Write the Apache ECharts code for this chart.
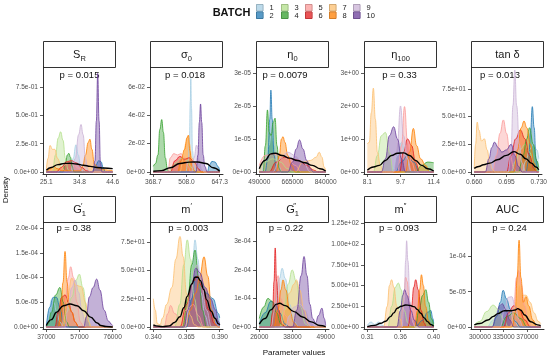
<!DOCTYPE html>
<html><head><meta charset="utf-8">
<script src="https://cdn.jsdelivr.net/npm/echarts@6/dist/echarts.min.js"></script>
<style>html,body{margin:0;padding:0;background:#fff}#c{width:550px;height:361px}</style>
</head><body><div id="c"></div>
<script>
const batchNames = ['1','2','3','4','5','6','7','8','9','10'];
const batchColors = ['#A6CEE3','#1F78B4','#B2DF8A','#33A02C','#FB9A99','#E31A1C','#FDBF6F','#FF7F00','#CAB2D6','#6A3D9A'];
const stripLabels = ['{m|S}{s|R}','{m|σ}{s|0}','{m|η}{s|0}','{m|η}{s|100}','{m|tan δ}','{m|G}{p|′}{s|1}','{m|m}{q|′}','{m|G}{p|″}{s|1}','{m|m}{q|″}','{m|AUC}'];
const pValues = ['p = 0.015','p = 0.018','p = 0.0079','p = 0.33','p = 0.013','p = 0.38','p = 0.003','p = 0.22','p = 0.093','p = 0.24'];

// ---- tick values / labels ----
const SR_xTicks=[25.1,34.85,44.6], SR_xLabels=['25.1','34.8','44.6'];
const SR_yTicks=[0,0.25,0.5,0.75], SR_yLabels=['0.0e+00','2.5e-01','5.0e-01','7.5e-01'];
const S0_xTicks=[368.7,508.0,647.3], S0_xLabels=['368.7','508.0','647.3'];
const S0_yTicks=[0,0.02,0.04,0.06], S0_yLabels=['0e+00','2e-02','4e-02','6e-02'];
const E0_xTicks=[490000,665000,840000], E0_xLabels=['490000','665000','840000'];
const E0_yTicks=[0,1e-5,2e-5,3e-5], E0_yLabels=['0e+00','1e-05','2e-05','3e-05'];
const E100_xTicks=[8.1,9.75,11.4], E100_xLabels=['8.1','9.7','11.4'];
const E100_yTicks=[0,1,2,3], E100_yLabels=['0e+00','1e+00','2e+00','3e+00'];
const TD_xTicks=[0.660,0.695,0.730], TD_xLabels=['0.660','0.695','0.730'];
const TD_yTicks=[0,25,50,75], TD_yLabels=['0.0e+00','2.5e+01','5.0e+01','7.5e+01'];
const G1_xTicks=[37000,56500,76000], G1_xLabels=['37000','57000','76000'];
const G1_yTicks=[0,5e-5,1e-4,1.5e-4,2e-4], G1_yLabels=['0.0e+00','5.0e-05','1.0e-04','1.5e-04','2.0e-04'];
const M1_xTicks=[0.340,0.365,0.390], M1_xLabels=['0.340','0.365','0.390'];
const M1_yTicks=[0,25,50,75], M1_yLabels=['0.0e+00','2.5e+01','5.0e+01','7.5e+01'];
const G2_xTicks=[26000,37500,49000], G2_xLabels=['26000','38000','49000'];
const G2_yTicks=[0,1e-4,2e-4,3e-4], G2_yLabels=['0e+00','1e-04','2e-04','3e-04'];
const M2_xTicks=[0.31,0.355,0.40], M2_xLabels=['0.31','0.36','0.40'];
const M2_yTicks=[0,25,50,75,100,125], M2_yLabels=['0.00e+00','2.50e+01','5.00e+01','7.50e+01','1.00e+02','1.25e+02'];
const AUC_xTicks=[300000,335000,370000], AUC_xLabels=['300000','335000','370000'];
const AUC_yTicks=[0,5e-5,1e-4], AUC_yLabels=['0e+00','5e-05','1e-04'];

// ---- density curves per batch (1..10) and overall ----
const SR_batches=[
[[25.1,0],[32.3,0],[33.0,0.12],[33.8,0.24],[34.5,0.15],[35.2,0.05],[36,0],[44.6,0]],
[[25.1,0],[38.5,0],[39.5,0.05],[40.5,0.1],[41.2,0.09],[41.8,0.04],[42.5,0],[44.6,0]],
[[25.1,0],[26.9,0],[27.8,0.15],[28.6,0.3],[29.3,0.355],[30.0,0.28],[30.7,0.12],[31.5,0.02],[32.2,0],[44.6,0]],
[[25.1,0],[30.0,0],[30.7,0.08],[31.3,0.15],[31.7,0.165],[32.2,0.13],[32.7,0.05],[33.3,0],[44.6,0]],
[[25.1,0],[28.5,0],[30,0.05],[31.5,0.09],[33,0.07],[34.5,0.03],[36,0],[44.6,0]],
[[25.1,0],[28,0],[29.5,0.04],[31,0.09],[32.5,0.1],[34,0.08],[35.5,0.04],[37,0.01],[38.5,0],[44.6,0]],
[[25.1,0.02],[25.6,0.12],[26.2,0.235],[26.9,0.2],[27.6,0.2],[28.4,0.12],[29.5,0.05],[30.5,0.01],[31.5,0],[44.6,0]],
[[25.1,0],[26.5,0.03],[27.3,0.05],[28.2,0.03],[30,0.01],[35,0.01],[35.8,0.05],[36.6,0.15],[37.4,0.26],[37.9,0.29],[38.5,0.2],[39.2,0.07],[40.5,0.03],[42,0.02],[44,0.015],[44.6,0.01]],
[[25.1,0],[32.6,0],[33.6,0.12],[34.6,0.33],[35.3,0.42],[35.9,0.33],[36.6,0.12],[37.3,0.02],[38,0],[44.6,0]],
[[25.1,0],[38.8,0],[39.4,0.1],[39.8,0.45],[40.2,0.87],[40.6,0.45],[41.0,0.08],[41.5,0],[44.6,0]]
];
const SR_overall=[[25.1,0.015],[26.5,0.04],[28.5,0.065],[30.5,0.076],[32,0.077],[34,0.07],[36,0.06],[38,0.05],[40,0.04],[42,0.035],[44.6,0.03]];

const S0_batches=[
[[368.7,0],[505,0],[515,0.008],[520,0.02],[524,0.05],[526,0.066],[529,0.045],[533,0.015],[540,0.004],[548,0],[647.3,0]],
[[368.7,0],[595,0],[605,0.005],[615,0.0075],[628,0.007],[640,0.004],[647.3,0.001]],
[[368.7,0],[430,0],[460,0.006],[490,0.01],[510,0.008],[530,0.003],[545,0],[647.3,0]],
[[368.7,0.004],[378,0.006],[388,0.012],[396,0.03],[404,0.037],[411,0.028],[419,0.01],[428,0.002],[435,0],[647.3,0]],
[[368.7,0],[430,0],[440,0.01],[455,0.013],[470,0.012],[485,0.013],[500,0.01],[515,0.004],[525,0],[647.3,0]],
[[368.7,0],[440,0],[460,0.008],[480,0.011],[500,0.009],[520,0.01],[540,0.007],[560,0.002],[570,0],[647.3,0]],
[[368.7,0],[480,0],[495,0.01],[505,0.02],[512,0.025],[520,0.02],[530,0.01],[545,0.005],[560,0],[647.3,0]],
[[368.7,0],[470,0],[485,0.008],[500,0.016],[510,0.024],[516,0.026],[522,0.015],[530,0.005],[540,0.001],[550,0],[647.3,0]],
[[368.7,0],[530,0],[540,0.01],[550,0.019],[558,0.016],[566,0.008],[575,0.002],[582,0],[647.3,0]],
[[368.7,0],[548,0],[556,0.012],[562,0.035],[567,0.048],[572,0.035],[578,0.012],[585,0.004],[595,0],[647.3,0]]
];
const S0_overall=[[368.7,0.0005],[403,0.001],[440,0.003],[480,0.006],[520,0.007],[555,0.0071],[590,0.006],[620,0.003],[647.3,0.0005]];

const E0_batches=[
[[490000,0],[500000,0],[520000,0.3e-5],[540000,0.8e-5],[555000,1.2e-5],[570000,0.8e-5],[590000,0.2e-5],[610000,0],[840000,0]],
[[490000,0],[520000,0],[535000,0.4e-5],[545000,1.6e-5],[551000,2.48e-5],[558000,1.6e-5],[568000,0.5e-5],[580000,0],[840000,0]],
[[490000,0],[520000,0.3e-5],[560000,0.4e-5],[600000,0.3e-5],[640000,0.1e-5],[670000,0],[840000,0]],
[[490000,0],[510000,0],[522000,0.8e-5],[533000,1.88e-5],[542000,1.2e-5],[552000,1.1e-5],[563000,1.5e-5],[573000,1.63e-5],[583000,0.8e-5],[595000,0.1e-5],[605000,0],[840000,0]],
[[490000,0.2e-5],[520000,0.5e-5],[560000,0.55e-5],[600000,0.5e-5],[640000,0.4e-5],[680000,0.2e-5],[710000,0],[840000,0]],
[[490000,0],[540000,0],[580000,0.3e-5],[620000,0.45e-5],[660000,0.4e-5],[700000,0.35e-5],[740000,0.2e-5],[780000,0.05e-5],[800000,0],[840000,0]],
[[490000,0],[680000,0],[720000,0.3e-5],[760000,0.35e-5],[790000,0.45e-5],[806000,0.6e-5],[820000,0.45e-5],[832000,0.15e-5],[840000,0.05e-5]],
[[490000,0],[580000,0],[595000,0.5e-5],[607000,1.0e-5],[615000,1.07e-5],[625000,0.9e-5],[640000,0.5e-5],[660000,0.2e-5],[680000,0],[840000,0]],
[[490000,0],[560000,0],[600000,0.4e-5],[640000,0.6e-5],[680000,0.5e-5],[720000,0.3e-5],[760000,0],[840000,0]],
[[490000,0],[640000,0],[665000,0.3e-5],[685000,0.7e-5],[702000,0.97e-5],[720000,0.7e-5],[740000,0.35e-5],[760000,0.1e-5],[775000,0],[840000,0]]
];
const E0_overall=[[490000,0.1e-5],[520000,0.35e-5],[550000,0.55e-5],[575000,0.57e-5],[610000,0.5e-5],[650000,0.42e-5],[690000,0.35e-5],[730000,0.28e-5],[770000,0.2e-5],[810000,0.1e-5],[840000,0.03e-5]];

const E100_batches=[
[[8.1,0],[9.3,0],[9.6,0.5],[9.8,0.9],[10.0,0.5],[10.3,0],[11.4,0]],
[[8.1,0],[9.5,0],[9.8,0.3],[10.1,0.5],[10.4,0.3],[10.7,0],[11.4,0]],
[[8.1,0],[8.4,0],[8.6,0.5],[8.8,1.1],[9.0,1.2],[9.2,0.6],[9.4,0],[11.4,0]],
[[8.1,0],[10.5,0],[10.8,0.2],[11.1,0.3],[11.4,0.28]],
[[8.1,0],[9.6,0],[9.8,0.8],[9.95,1.98],[10.1,0.9],[10.3,0.3],[10.5,0],[11.4,0]],
[[8.1,0],[9.7,0],[9.9,0.6],[10.1,1.0],[10.3,0.8],[10.5,0.3],[10.7,0],[11.4,0]],
[[8.1,0.85],[8.2,0.9],[8.3,1.8],[8.4,2.54],[8.5,1.6],[8.6,0.6],[8.75,0.2],[8.9,0],[11.4,0]],
[[8.1,0],[10.0,0],[10.2,0.6],[10.39,1.32],[10.55,0.8],[10.75,0.4],[11.0,0.2],[11.2,0],[11.4,0]],
[[8.1,0],[9.4,0],[9.6,0.9],[9.75,2.0],[9.9,1.1],[10.1,0.4],[10.3,0],[11.4,0]],
[[8.1,0],[8.8,0],[9.0,0.4],[9.2,1.1],[9.41,1.37],[9.6,1.0],[9.8,0.4],[10.0,0],[11.4,0]]
];
const E100_overall=[[8.1,0.05],[8.4,0.15],[8.7,0.2],[9.0,0.35],[9.3,0.5],[9.6,0.57],[9.9,0.58],[10.2,0.5],[10.5,0.35],[10.8,0.2],[11.1,0.1],[11.4,0.03]];

const TD_batches=[
[[0.660,0],[0.712,0],[0.716,10],[0.720,20],[0.724,25],[0.728,20],[0.730,12]],
[[0.660,0],[0.716,0],[0.719,10],[0.721,35],[0.723,59],[0.725,40],[0.727,12],[0.729,2],[0.730,0]],
[[0.660,0],[0.700,0],[0.705,10],[0.710,20],[0.715,25],[0.720,18],[0.725,5],[0.730,0]],
[[0.660,0],[0.708,0],[0.713,15],[0.717,30],[0.720,40],[0.724,25],[0.728,10],[0.730,4]],
[[0.660,0],[0.680,0],[0.684,15],[0.688,35],[0.6916,47],[0.695,35],[0.699,15],[0.703,3],[0.706,0],[0.730,0]],
[[0.660,0],[0.695,0],[0.700,15],[0.705,30],[0.710,38],[0.715,30],[0.720,15],[0.725,3],[0.728,0],[0.730,0]],
[[0.660,3],[0.6615,25],[0.6632,45],[0.665,38],[0.668,28],[0.671,30],[0.674,20],[0.677,8],[0.680,2],[0.683,0],[0.730,0]],
[[0.660,0],[0.703,0],[0.707,20],[0.711,40],[0.714,46],[0.717,40],[0.721,25],[0.725,8],[0.728,0],[0.730,0]],
[[0.660,0],[0.697,0],[0.700,20],[0.702,60],[0.704,92],[0.706,60],[0.709,25],[0.712,8],[0.716,0],[0.730,0]],
[[0.660,0],[0.672,0],[0.676,12],[0.679,22],[0.682,27],[0.686,22],[0.690,18],[0.695,20],[0.700,25],[0.704,15],[0.708,5],[0.712,0],[0.730,0]]
];
const TD_overall=[[0.660,3.3],[0.665,5],[0.670,6.5],[0.677,8],[0.685,11],[0.695,15],[0.703,18.4],[0.710,16],[0.716,12],[0.722,8],[0.727,4.5],[0.730,2]];

const G1_batches=[
[[37000,0],[37500,0.1e-4],[38500,0.3e-4],[40000,0.55e-4],[41500,0.5e-4],[43000,0.3e-4],[45000,0.1e-4],[47000,0],[76000,0]],
[[37000,0],[39000,0.4e-4],[41000,0.6e-4],[43000,0.6e-4],[45000,0.4e-4],[47000,0.1e-4],[49000,0],[76000,0]],
[[37000,0],[46000,0],[49000,0.3e-4],[52000,0.6e-4],[54500,0.95e-4],[56400,1.07e-4],[58500,0.8e-4],[61000,0.3e-4],[63000,0],[76000,0]],
[[37000,0],[38000,0.05e-4],[40000,0.3e-4],[42500,0.65e-4],[45000,0.8e-4],[47000,0.5e-4],[49000,0.1e-4],[50500,0],[76000,0]],
[[37000,0],[46000,0],[48000,0.5e-4],[50000,1.0e-4],[51300,1.22e-4],[53000,1.0e-4],[55000,0.5e-4],[57000,0.1e-4],[59000,0],[76000,0]],
[[37000,0],[42000,0],[44000,0.3e-4],[46000,0.6e-4],[48000,0.65e-4],[50000,0.5e-4],[52000,0.3e-4],[54000,0.1e-4],[56000,0],[76000,0]],
[[37000,0],[47000,0],[49500,0.6e-4],[51900,0.99e-4],[54000,0.85e-4],[57500,0.82e-4],[60000,0.5e-4],[62000,0.1e-4],[63500,0],[76000,0]],
[[37000,0],[44000,0],[45500,0.3e-4],[46800,0.9e-4],[48000,1.53e-4],[49200,0.9e-4],[50500,0.4e-4],[52000,0.3e-4],[54000,0.1e-4],[56000,0],[76000,0]],
[[37000,0],[48000,0],[50000,0.5e-4],[52000,0.8e-4],[54000,0.95e-4],[56000,0.7e-4],[58000,0.3e-4],[60000,0],[76000,0]],
[[37000,0],[59000,0],[60500,0.2e-4],[62300,0.61e-4],[64500,0.8e-4],[66600,0.97e-4],[68500,0.75e-4],[71000,0.34e-4],[73500,0.12e-4],[75500,0.05e-4],[76000,0.03e-4]]
];
const G1_overall=[[37000,0.03e-4],[40000,0.15e-4],[43000,0.3e-4],[47000,0.43e-4],[51000,0.466e-4],[55000,0.43e-4],[59000,0.33e-4],[63000,0.2e-4],[67000,0.08e-4],[69000,0.03e-4],[72000,0.01e-4],[76000,0]];

const M1_batches=[
[[0.340,0],[0.364,0],[0.367,20],[0.3695,55],[0.3714,77],[0.3735,60],[0.376,30],[0.379,10],[0.382,0],[0.390,0]],
[[0.340,0],[0.365,0],[0.369,25],[0.372,45],[0.376,40],[0.380,30],[0.385,25],[0.389,12],[0.390,8]],
[[0.340,0],[0.356,0],[0.360,20],[0.363,55],[0.3656,77],[0.368,60],[0.371,25],[0.374,5],[0.377,0],[0.390,0]],
[[0.340,0],[0.362,0],[0.366,25],[0.369,55],[0.3714,68],[0.374,45],[0.377,15],[0.380,0],[0.390,0]],
[[0.340,0],[0.348,0],[0.351,12],[0.353,19],[0.356,12],[0.360,8],[0.365,15],[0.370,20],[0.374,10],[0.378,0],[0.390,0]],
[[0.340,0],[0.360,0],[0.365,20],[0.370,40],[0.373,45],[0.377,35],[0.382,15],[0.386,3],[0.389,0],[0.390,0]],
[[0.340,25],[0.3415,15],[0.343,3],[0.345,2],[0.347,8],[0.350,20],[0.354,35],[0.357,60],[0.3601,80],[0.3625,62],[0.365,30],[0.368,10],[0.371,2],[0.374,0],[0.390,0]],
[[0.340,0],[0.364,0],[0.368,15],[0.372,30],[0.375,45],[0.3782,62],[0.381,45],[0.384,15],[0.387,2],[0.389,0],[0.390,0]],
[[0.340,0],[0.364,0],[0.368,25],[0.371,50],[0.373,55],[0.376,40],[0.380,15],[0.384,0],[0.390,0]],
[[0.340,0],[0.363,0],[0.366,15],[0.369,38],[0.372,52],[0.375,48],[0.379,35],[0.383,25],[0.387,15],[0.389,5],[0.390,2]]
];
const M1_overall=[[0.340,1.8],[0.342,1],[0.347,0.3],[0.352,1],[0.356,4],[0.360,9],[0.363,17],[0.3655,27],[0.369,38],[0.3714,44],[0.3735,44],[0.3755,41],[0.378,33],[0.3802,24],[0.3835,14],[0.3865,7.7],[0.389,3],[0.390,1.5]];

const G2_batches=[
[[26000,0],[30000,0],[31500,0.8e-4],[33000,1.7e-4],[33900,2.06e-4],[35000,1.7e-4],[36500,0.8e-4],[38000,0.2e-4],[39500,0],[49000,0]],
[[26000,0.1e-4],[28000,0.5e-4],[30000,0.9e-4],[31500,0.8e-4],[33000,0.5e-4],[35000,0.1e-4],[36500,0],[49000,0]],
[[26000,0],[33000,0],[34500,0.6e-4],[36000,1.5e-4],[37400,2.0e-4],[38800,1.6e-4],[40300,0.7e-4],[42000,0.1e-4],[43500,0],[49000,0]],
[[26000,0.3e-4],[27500,0.7e-4],[29000,1.0e-4],[30500,0.9e-4],[32000,0.5e-4],[33500,0.1e-4],[35000,0],[49000,0]],
[[26000,0],[30000,0],[31000,0.5e-4],[31800,1.5e-4],[32500,1.8e-4],[33500,1.0e-4],[35000,0.4e-4],[37000,0],[49000,0]],
[[26000,0],[29800,0],[30600,0.5e-4],[31100,1.6e-4],[31500,2.77e-4],[32000,1.6e-4],[32700,0.6e-4],[33800,0.1e-4],[35000,0],[49000,0]],
[[26000,0],[33500,0],[35000,0.6e-4],[36500,1.2e-4],[38000,1.5e-4],[38900,1.65e-4],[40000,1.3e-4],[41500,0.6e-4],[43000,0.1e-4],[44000,0],[49000,0]],
[[26000,0],[31000,0],[32500,0.6e-4],[33500,1.3e-4],[34200,1.65e-4],[35200,1.3e-4],[36500,0.6e-4],[38000,0.15e-4],[39500,0],[49000,0]],
[[26000,0],[35000,0],[36500,0.4e-4],[38000,0.7e-4],[40000,0.8e-4],[42000,0.6e-4],[44000,0.2e-4],[45500,0],[49000,0]],
[[26000,0],[37500,0],[39000,0.6e-4],[40500,1.8e-4],[41500,2.47e-4],[42500,1.8e-4],[43500,0.8e-4],[44500,0.3e-4],[45500,0.15e-4],[46500,0.4e-4],[47700,0.66e-4],[48500,0.3e-4],[49000,0.05e-4]]
];
const G2_overall=[[26000,0.1e-4],[28000,0.3e-4],[30000,0.6e-4],[32000,0.8e-4],[33000,0.83e-4],[35000,0.75e-4],[38000,0.54e-4],[41000,0.35e-4],[44000,0.18e-4],[47000,0.05e-4],[49000,0.01e-4]];

const M2_batches=[
[[0.310,2],[0.315,6],[0.320,3],[0.325,6],[0.330,2],[0.335,0],[0.400,0]],
[[0.310,0],[0.375,0],[0.385,8],[0.392,18],[0.396,20],[0.399,10],[0.400,4]],
[[0.310,0],[0.338,0],[0.343,25],[0.348,48],[0.352,53],[0.356,45],[0.360,20],[0.365,5],[0.370,0],[0.400,0]],
[[0.310,0],[0.375,0],[0.380,20],[0.385,38],[0.3893,45],[0.393,30],[0.397,10],[0.400,2]],
[[0.310,0],[0.355,0],[0.359,30],[0.362,60],[0.364,55],[0.367,30],[0.371,10],[0.375,0],[0.400,0]],
[[0.310,0],[0.365,0],[0.370,25],[0.373,48],[0.3756,57],[0.379,45],[0.383,20],[0.387,5],[0.390,0],[0.400,0]],
[[0.310,0],[0.332,0],[0.337,25],[0.340,50],[0.3429,57],[0.346,48],[0.350,25],[0.354,10],[0.358,0],[0.400,0]],
[[0.310,0],[0.374,0],[0.378,20],[0.381,45],[0.3834,63],[0.386,50],[0.389,25],[0.393,8],[0.397,0],[0.400,0]],
[[0.310,0],[0.357,0],[0.360,30],[0.362,80],[0.3633,104],[0.365,80],[0.368,30],[0.372,5],[0.375,0],[0.400,0]],
[[0.310,0],[0.350,0],[0.355,20],[0.358,38],[0.3605,45],[0.364,38],[0.369,20],[0.374,8],[0.380,0],[0.400,0]]
];
const M2_overall=[[0.310,0.5],[0.320,2],[0.328,4.5],[0.335,7],[0.3413,12.5],[0.346,17],[0.3505,22.6],[0.356,25],[0.3619,26.6],[0.368,26],[0.3734,24.6],[0.378,21],[0.3826,16.5],[0.387,11],[0.3917,6.5],[0.396,3],[0.400,1]];

const AUC_batches=[
[[291700,0],[310000,0],[320000,0.1e-4],[330000,0.3e-4],[336000,0.45e-4],[342000,0.3e-4],[350000,0.1e-4],[358000,0],[389700,0]],
[[291700,0],[318000,0],[325000,0.15e-4],[330000,0.35e-4],[334300,0.52e-4],[339000,0.4e-4],[345000,0.25e-4],[352000,0.08e-4],[360000,0],[389700,0]],
[[291700,0.03e-4],[300000,0.08e-4],[310000,0.22e-4],[319600,0.31e-4],[327000,0.25e-4],[335000,0.1e-4],[342000,0],[389700,0]],
[[291700,0],[330000,0],[340000,0.15e-4],[350000,0.2e-4],[360000,0.12e-4],[370000,0],[389700,0]],
[[291700,0],[345000,0],[350000,0.3e-4],[354000,0.7e-4],[357000,0.8e-4],[361000,0.6e-4],[366000,0.3e-4],[372000,0.05e-4],[378000,0],[389700,0]],
[[291700,0],[335000,0],[342000,0.2e-4],[350000,0.3e-4],[358000,0.25e-4],[366000,0.1e-4],[375000,0],[389700,0]],
[[291700,0],[345000,0],[352000,0.3e-4],[358000,0.6e-4],[363000,0.45e-4],[368000,0.45e-4],[374000,0.35e-4],[380000,0.2e-4],[386000,0.08e-4],[389700,0.05e-4]],
[[291700,0],[348000,0],[352000,0.2e-4],[355000,0.7e-4],[357800,1.23e-4],[360500,0.7e-4],[364000,0.35e-4],[368000,0.43e-4],[372000,0.3e-4],[378000,0.1e-4],[384000,0],[389700,0]],
[[291700,0],[330000,0],[336000,0.25e-4],[342000,0.42e-4],[347000,0.43e-4],[352000,0.3e-4],[358000,0.1e-4],[364000,0],[389700,0]],
[[291700,0],[318000,0],[324000,0.15e-4],[329000,0.3e-4],[333000,0.33e-4],[338000,0.25e-4],[344000,0.1e-4],[350000,0],[389700,0]]
];
const AUC_overall=[[291700,0.03e-4],[300000,0.05e-4],[311700,0.1e-4],[320000,0.15e-4],[326400,0.19e-4],[336000,0.23e-4],[346000,0.23e-4],[352000,0.24e-4],[356000,0.26e-4],[360000,0.24e-4],[366000,0.17e-4],[375000,0.075e-4],[385000,0.03e-4],[389700,0.02e-4]];

// ---- panel assembly (axis ranges = data range + ggplot-style padding) ----
const panels = [
 {b:SR_batches, o:SR_overall, xr:[24.125,45.575], xt:SR_xTicks, xl:SR_xLabels, yTop:0.927, yt:SR_yTicks, yl:SR_yLabels},
 {b:S0_batches, o:S0_overall, xr:[354.77,661.23], xt:S0_xTicks, xl:S0_xLabels, yTop:0.0741, yt:S0_yTicks, yl:S0_yLabels},
 {b:E0_batches, o:E0_overall, xr:[472500,857500], xt:E0_xTicks, xl:E0_xLabels, yTop:3.18e-5, yt:E0_yTicks, yl:E0_yLabels},
 {b:E100_batches, o:E100_overall, xr:[7.935,11.565], xt:E100_xTicks, xl:E100_xLabels, yTop:3.18, yt:E100_yTicks, yl:E100_yLabels},
 {b:TD_batches, o:TD_overall, xr:[0.6565,0.7335], xt:TD_xTicks, xl:TD_xLabels, yTop:94.8, yt:TD_yTicks, yl:TD_yLabels},
 {b:G1_batches, o:G1_overall, xr:[35050,77950], xt:G1_xTicks, xl:G1_xLabels, yTop:2.126e-4, yt:G1_yTicks, yl:G1_yLabels},
 {b:M1_batches, o:M1_overall, xr:[0.3375,0.3925], xt:M1_xTicks, xl:M1_xLabels, yTop:92.8, yt:M1_yTicks, yl:M1_yLabels},
 {b:G2_batches, o:G2_overall, xr:[24850,50150], xt:G2_xTicks, xl:G2_xLabels, yTop:3.68e-4, yt:G2_yTicks, yl:G2_yLabels},
 {b:M2_batches, o:M2_overall, xr:[0.3055,0.4045], xt:M2_xTicks, xl:M2_xLabels, yTop:126.6, yt:M2_yTicks, yl:M2_yLabels},
 {b:AUC_batches, o:AUC_overall, xr:[286800,394600], xt:AUC_xTicks, xl:AUC_xLabels, yTop:1.487e-4, yt:AUC_yTicks, yl:AUC_yLabels}
];

const F = '"Liberation Sans", Arial, Helvetica, sans-serif';
const colLeft = [43,150,256,364,471];
const rowTop = [67,222];
const stripTop = [41,196];
const PW = 73, PH = 107, ZERO_OFF = 105;
const pPos = [[79.5,75],[185,75],[285,75],[399.5,75],[500,75],[73.7,228.5],[188.3,228.5],[286,228.5],[399,228.5],[509.5,228.5]];

function labelFor(ticks, labels, v){let bi=0,bd=Infinity;ticks.forEach((t,i)=>{const d=Math.abs(t-v);if(d<bd){bd=d;bi=i;}});return labels[bi];}

const grids=[], xAxes=[], yAxes=[], series=[], graphics=[];
panels.forEach((p,i)=>{
  const c=i%5, r=Math.floor(i/5);
  grids.push({left:colLeft[c], top:rowTop[r], width:PW, height:PH, containLabel:false});
  xAxes.push({gridIndex:i,type:'value',min:p.xr[0],max:p.xr[1],
    axisLine:{show:true,onZero:false,lineStyle:{color:'#1a1a1a',width:0.9}},
    axisTick:{show:true,customValues:p.xt,length:3,lineStyle:{color:'#333',width:0.8}},
    axisLabel:{customValues:p.xt,formatter:v=>labelFor(p.xt,p.xl,v),fontSize:6.6,color:'#4d4d4d',margin:5,fontFamily:F,hideOverlap:false},
    splitLine:{show:false}});
  yAxes.push({gridIndex:i,type:'value',min:-p.yTop*(PH-ZERO_OFF)/ZERO_OFF,max:p.yTop,
    axisLine:{show:true,onZero:false,lineStyle:{color:'#1a1a1a',width:0.9}},
    axisTick:{show:true,customValues:p.yt,length:3,lineStyle:{color:'#333',width:0.8}},
    axisLabel:{customValues:p.yt,formatter:v=>labelFor(p.yt,p.yl,v),fontSize:6.6,color:'#4d4d4d',margin:5,fontFamily:F},
    splitLine:{show:false}});
  p.b.forEach((d,k)=>{
    series.push({type:'line',name:batchNames[k],xAxisIndex:i,yAxisIndex:i,data:d,smooth:0.45,smoothMonotone:'x',
      symbol:'none',silent:true,lineStyle:{color:batchColors[k],width:0.8},itemStyle:{color:batchColors[k]},
      areaStyle:{color:batchColors[k],opacity:0.4}});
  });
  series.push({type:'line',name:'all',xAxisIndex:i,yAxisIndex:i,data:p.o,smooth:0.45,smoothMonotone:'x',symbol:'none',silent:true,
    lineStyle:{color:'#000',width:1.4},z:5});
  graphics.push({type:'rect',shape:{x:colLeft[c]+0.5,y:stripTop[r]+0.5,width:PW-1,height:26},style:{fill:'#fff',stroke:'#333',lineWidth:1},silent:true});
  graphics.push({type:'text',x:colLeft[c]+PW/2,y:stripTop[r]+13.5,silent:true,style:{text:stripLabels[i],align:'center',verticalAlign:'middle',
    rich:{m:{fontSize:11,fontFamily:F,fill:'#1a1a1a',lineHeight:16,verticalAlign:'middle'},
          s:{fontSize:7.5,fontFamily:F,fill:'#1a1a1a',lineHeight:7,verticalAlign:'bottom'},
          p:{fontSize:7.5,fontFamily:F,fill:'#1a1a1a',lineHeight:7,verticalAlign:'top',width:0},
          q:{fontSize:7.5,fontFamily:F,fill:'#1a1a1a',lineHeight:7,verticalAlign:'top'}}}});
  graphics.push({type:'text',x:pPos[i][0],y:pPos[i][1],silent:true,style:{text:pValues[i],align:'center',verticalAlign:'middle',fontSize:9.5,fontFamily:F,fill:'#111'}});
});

// legend
const legLeft=[256,281,305,329,353];
graphics.push({type:'text',x:231.5,y:12.5,silent:true,style:{text:'BATCH',align:'center',verticalAlign:'middle',fontSize:11,fontWeight:'bold',fontFamily:F,fill:'#111'}});
batchNames.forEach((n,k)=>{
  const c=Math.floor(k/2), r=k%2;
  const y=r===0?4.5:12;
  graphics.push({type:'rect',shape:{x:legLeft[c]+0.5,y:y,width:6.5,height:6.5},style:{fill:batchColors[k],opacity:1,stroke:batchColors[k],lineWidth:1},silent:true});
  graphics.push({type:'rect',shape:{x:legLeft[c]+0.5,y:y,width:6.5,height:6.5},style:{fill:'rgba(255,255,255,0.25)',stroke:'rgba(60,60,60,0.35)',lineWidth:0.6},silent:true});
  graphics.push({type:'text',x:legLeft[c]+13.5,y:y+3.5,silent:true,style:{text:n,align:'left',verticalAlign:'middle',fontSize:7.5,fontFamily:F,fill:'#222'}});
});
graphics.push({type:'text',x:6,y:190,rotation:Math.PI/2,silent:true,style:{text:'Density',align:'center',verticalAlign:'middle',fontSize:8,fontFamily:F,fill:'#111'}});
graphics.push({type:'text',x:294,y:353,silent:true,style:{text:'Parameter values',align:'center',verticalAlign:'middle',fontSize:8,fontFamily:F,fill:'#111'}});

const chart = echarts.init(document.getElementById('c'), null, {renderer:'canvas'});
chart.setOption({animation:false,backgroundColor:'#fff',grid:grids,xAxis:xAxes,yAxis:yAxes,series:series,graphic:{elements:graphics}});
</script></body></html>
